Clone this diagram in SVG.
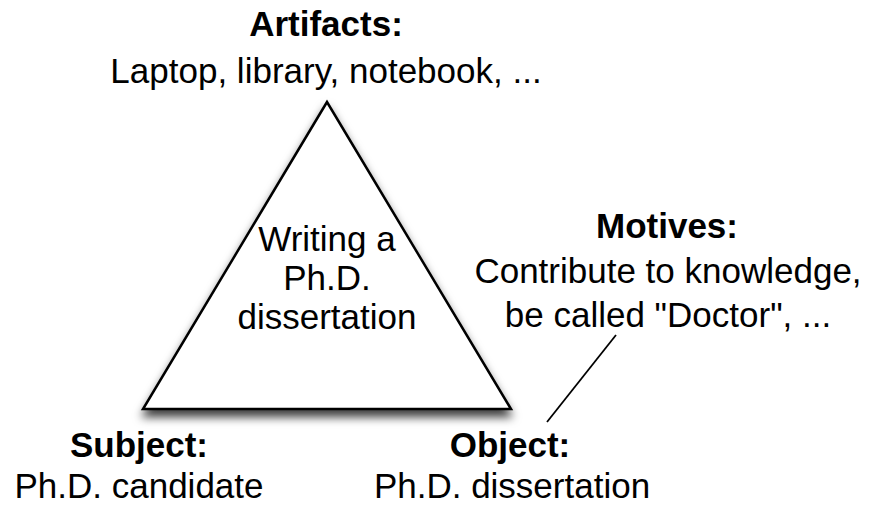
<svg xmlns="http://www.w3.org/2000/svg" width="875" height="506" viewBox="0 0 875 506">
  <defs>
    <filter id="shadow" x="-20%" y="-20%" width="140%" height="150%">
      <feDropShadow dx="0" dy="7" stdDeviation="5" flood-color="#000" flood-opacity="0.75"/>
    </filter>
  </defs>
  <style>
    text { font-family: "Liberation Sans", Arial, sans-serif; font-size: 35px; fill: #000; text-anchor: middle; }
    .b { font-weight: bold; }
    .edge { stroke: #000; stroke-width: 1.8; fill: none; }
  </style>
  <rect width="875" height="506" fill="#fff"/>

  <g id="activity">
    <polygon points="327,102 143,409 511,409" fill="#fff" stroke="#000" stroke-width="2.5" stroke-linejoin="miter" filter="url(#shadow)"/>
    <text x="327" y="251">Writing a</text>
    <text x="327" y="290">Ph.D.</text>
    <text x="327" y="329">dissertation</text>
  </g>

  <g id="artifacts">
    <text class="b" x="326" y="36">Artifacts:</text>
    <text x="326" y="83">Laptop, library, notebook, ...</text>
  </g>

  <g id="motives">
    <text class="b" x="667" y="238">Motives:</text>
    <text x="668" y="283">Contribute to knowledge,</text>
    <text x="668" y="327">be called "Doctor", ...</text>
  </g>

  <g id="subject">
    <text class="b" x="139" y="457">Subject:</text>
    <text x="139" y="498">Ph.D. candidate</text>
  </g>

  <g id="object">
    <text class="b" x="510" y="457">Object:</text>
    <text x="512" y="498">Ph.D. dissertation</text>
  </g>

  <g id="connectors">
    <line class="edge" x1="616" y1="335" x2="547" y2="422"/>
  </g>
</svg>
